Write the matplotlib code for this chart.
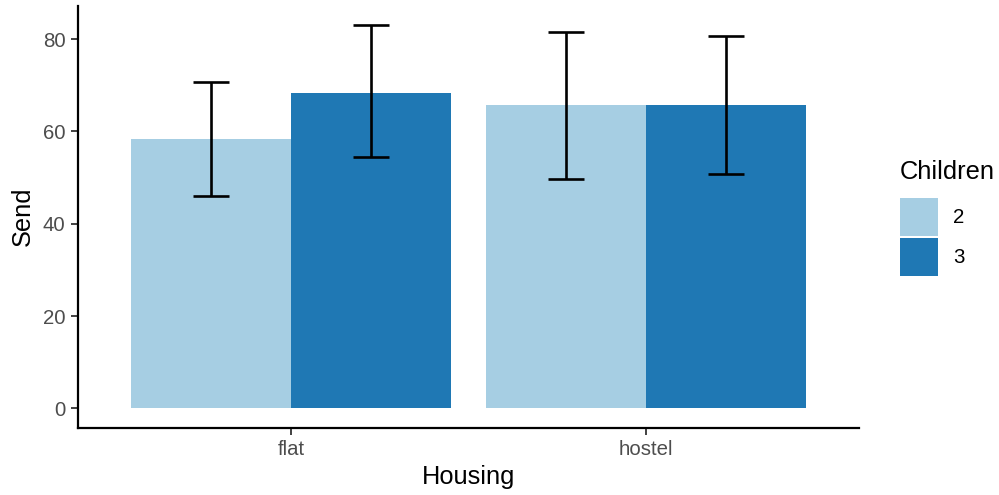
import matplotlib
matplotlib.use("Agg")
import matplotlib.pyplot as plt
import numpy as np
from matplotlib.patches import Patch

plt.rcParams['font.family'] = ['Liberation Sans', 'DejaVu Sans']

housing = ["flat", "hostel"]
children = ["2", "3"]
send_mean = {"2": [58.3, 65.7], "3": [68.4, 65.7]}
send_low = {"2": [46.0, 49.7], "3": [54.4, 50.7]}
send_high = {"2": [70.7, 81.5], "3": [83.0, 80.6]}
colors = {"2": "#A6CEE3", "3": "#1F78B4"}

fig = plt.figure(figsize=(9.99, 4.95), dpi=100)
ax = fig.add_axes([78 / 999, 1 - 427.5 / 495, (859 - 78) / 999, (427.5 - 6) / 495])

x = np.arange(1, len(housing) + 1)
bw = 0.45
offsets = {"2": -bw / 2, "3": bw / 2}
for c in children:
    xs = x + offsets[c]
    m = np.array(send_mean[c])
    lo = np.array(send_low[c])
    hi = np.array(send_high[c])
    ax.bar(xs, m, width=bw, color=colors[c], linewidth=0, zorder=2)
    ax.errorbar(xs, m, yerr=[m - lo, hi - m], fmt="none", ecolor="black",
                elinewidth=1.9, capsize=12.7, capthick=1.9, zorder=3)

ax.set_xlim(0.4, 2.6)
ymax = max(max(v) for v in send_high.values())
ax.set_ylim(-0.05 * ymax, ymax * 1.05)
ax.set_xticks(x)
ax.set_xticklabels(housing)
ax.set_yticks([0, 20, 40, 60, 80])
ax.tick_params(axis="both", colors="#333333", labelcolor="#4D4D4D", labelsize=14.7,
               length=5, width=1.3, pad=4)
for s in ["top", "right"]:
    ax.spines[s].set_visible(False)
for s in ["left", "bottom"]:
    ax.spines[s].set_linewidth(1.6)
    ax.spines[s].set_color("black")
ax.set_xlabel("Housing", fontsize=18.3, labelpad=4)
ax.set_ylabel("Send", fontsize=18.3, labelpad=6)

handles = [Patch(facecolor=colors[c], edgecolor="none", label=c) for c in children]
leg = fig.legend(handles=handles, title="Children", loc="upper left",
                 bbox_to_anchor=(900 / 999, 1 - 160 / 495), frameon=False,
                 fontsize=14.7, title_fontsize=18.3, handlelength=1.86, handleheight=2.52,
                 handletextpad=0.73, labelspacing=0.07, borderaxespad=0, borderpad=0)
leg._legend_box.align = "left"
leg._legend_box.sep = 10

fig.savefig("out.png", dpi=100)
